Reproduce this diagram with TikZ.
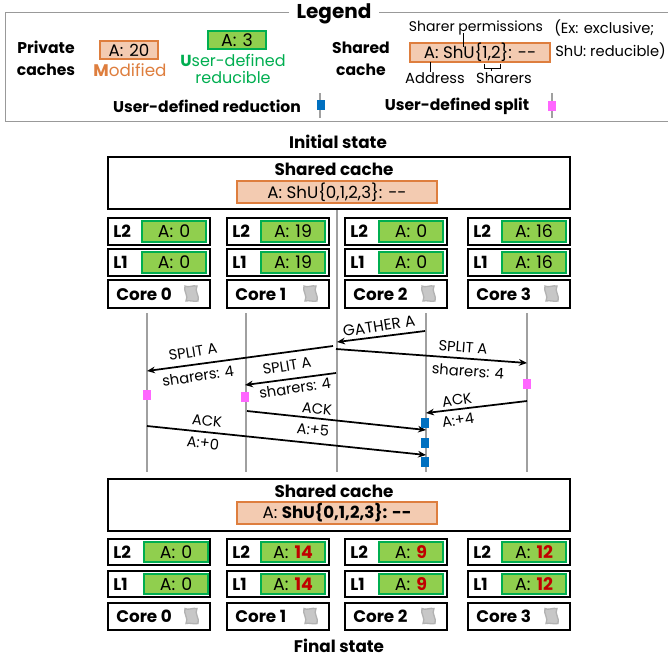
\documentclass[tikz,border=0pt]{standalone}
\usepackage{fontspec}
\setmainfont{Poppins}
\usetikzlibrary{arrows.meta}
\definecolor{orangeb}{HTML}{DE7E3E}
\definecolor{orangef}{HTML}{F3CBB1}
\definecolor{greenb}{HTML}{00AE50}
\definecolor{greenf}{HTML}{90CF4E}
\definecolor{redv}{HTML}{C00000}
\definecolor{lifeline}{HTML}{A0A0A0}
\definecolor{bluem}{HTML}{0070C0}
\definecolor{pinkm}{HTML}{FF66FF}
\tikzset{
  x=0.75pt,y=-0.75pt,
  txt/.style={inner sep=0pt,font=\fontsize{12}{14}\selectfont},
  lbl/.style={inner sep=0pt,font=\fontsize{10.5}{12}\selectfont},
  msglbl/.style={inner sep=0pt,font=\fontsize{11}{12}\selectfont},
  head/.style={inner sep=0pt,font=\fontsize{12.6}{14}\selectfont\bfseries},
  legbold/.style={inner sep=0pt,font=\fontsize{11.7}{16.5}\selectfont\bfseries},
  outerbox/.style={draw=black,line width=1.5pt,fill=white,inner sep=0pt,minimum width=76.5pt},
  greenbox/.style={draw=greenb,line width=1.4pt,fill=greenf,inner sep=0pt,text=black,font=\fontsize{13}{14}\selectfont},
  orangebox/.style={draw=orangeb,line width=1.4pt,fill=orangef,inner sep=0pt,text=black,font=\fontsize{12.5}{14}\selectfont},
  lifel/.style={draw=lifeline,line width=1.5pt},
  msg/.style={draw=black,line width=1.3pt,-{Stealth[length=6pt,width=5pt]}},
  bluebox/.style={fill=bluem,minimum width=6.5pt,minimum height=8pt,inner sep=0pt},
  pinkbox/.style={fill=pinkm,minimum width=6.5pt,minimum height=8pt,inner sep=0pt},
  scrollicon/.style={draw=black!30,line width=1pt,fill=black!22},
  guide/.style={draw=black,line width=0.7pt},
  legline/.style={draw=black!40,line width=0.75pt},
}
\newcommand{\corecol}[8]{%
  \node[outerbox,minimum height=20pt] (#1l2) at (#2+51,#3) {};
  \node[outerbox,minimum height=20pt] (#1l1) at (#2+51,#4) {};
  \node[outerbox,minimum height=20.5pt] (#1core) at (#2+51,#5) {};
  \node[head,anchor=west] (#1l2t) at (#2+5,#3) {L2};
  \node[head,anchor=west] (#1l1t) at (#2+5,#4) {L1};
  \node[greenbox,minimum width=47.5pt,minimum height=15.5pt] (#1l2v) at (#2+#8,#3) {A:\hspace{0.35em}#6};
  \node[greenbox,minimum width=47.5pt,minimum height=15.5pt] (#1l1v) at (#2+#8,#4) {A:\hspace{0.35em}#6};
  \node[head,anchor=west] (#1coret) at (#2+8,#5) {#7};
  \draw[scrollicon] (#2+77,#5-8) .. controls (#2+80,#5-6) and (#2+85,#5-9) .. (#2+89,#5-8)
     .. controls (#2+86,#5-3) and (#2+92,#5+2) .. (#2+90,#5+7)
     .. controls (#2+86,#5+8) and (#2+82,#5+6) .. (#2+78,#5+7)
     .. controls (#2+81,#5+2) and (#2+75,#5-3) .. cycle;
}
\begin{document}
\begin{tikzpicture}
\useasboundingbox (0,0) rectangle (668,658);
% legend frame
\coordinate (lg1) at (289,12); \coordinate (lg2) at (5,12); \coordinate (lg3) at (5,121);
\coordinate (lg4) at (668,121); \coordinate (lg5) at (668,12); \coordinate (lg6) at (379,12);
\draw[legline] (lg1) -- (lg2) -- (lg3) -- (lg4);
\draw[legline] (lg6) -- (lg5);
\node[inner sep=0pt,font=\fontsize{15}{17}\selectfont\bfseries] (legend) at (334,14) {Legend};
\node[legbold,align=center] (priv) at (46,58) {Private\\caches};
\node[orangebox,minimum width=43.5pt,minimum height=13.5pt] (a20) at (129,50) {A:\hspace{0.35em}20};
\node[txt,text=orangeb,font=\fontsize{12.6}{14}\selectfont] (modif) at (130,70) {\textbf{M}odified};
\node[greenbox,minimum width=43.5pt,minimum height=13.5pt] (a3) at (237,40) {A:\hspace{0.35em}3};
\node[txt,text=greenb,align=center,font=\fontsize{12}{13}\selectfont] (udr) at (233,69) {\textbf{U}ser-defined\\reducible};
\node[legbold,align=center] (shc) at (361,59) {Shared\\cache};
\node[orangebox,minimum width=105pt,minimum height=14.5pt] (ashu) at (480,52.5) {A: ShU\{1,2\}: -{}-};
\node[lbl] (sperm) at (476,28) {Sharer permissions};
\node[lbl,anchor=west,font=\fontsize{11}{13}\selectfont] (ex) at (554,28) {(Ex: exclusive;};
\node[lbl,anchor=west,font=\fontsize{11}{13}\selectfont] (shur) at (555,51) {ShU: reducible)};
\node[lbl,font=\fontsize{11}{13}\selectfont] (addr) at (435,78) {Address};
\node[lbl,font=\fontsize{11}{13}\selectfont] (shrs) at (504,78) {Sharers};
\coordinate (permb) at (463,47); \coordinate (permt) at (463,33);
\draw[guide] (permt) -- (permb);
\coordinate (addt) at (430,62); \coordinate (addb) at (430,72);
\draw[guide] (addt) -- (addb);
\coordinate (br1) at (484,64); \coordinate (br2) at (484,68); \coordinate (br3) at (500,68); \coordinate (br4) at (500,64);
\coordinate (br5) at (491,68); \coordinate (br6) at (491,71);
\draw[guide] (br1) -- (br2) -- (br3) -- (br4);
\draw[guide] (br5) -- (br6);
\node[legbold] (ureduc) at (207,106) {User-defined reduction};
\node[legbold] (usplit) at (457,106) {User-defined split};
\coordinate (lr1) at (320,93); \coordinate (lr2) at (320,118);
\coordinate (ls1) at (552,93); \coordinate (ls2) at (552,118);
\draw[lifel,line width=0.9pt] (lr1) -- (lr2);
\draw[lifel,line width=0.9pt] (ls1) -- (ls2);
\node[bluebox,minimum width=6pt,minimum height=7pt] (legb) at (321,105) {};
\node[pinkbox,minimum width=6pt,minimum height=7pt] (legp) at (552,106) {};
% titles
\node[head] (init) at (338,142) {Initial state};
\node[head] (fin) at (339,646) {Final state};
% life lines
\foreach \n/\x in {a/147,b/246,d/426,e/527}{
  \coordinate (t\n) at (\x,313);
  \coordinate (e\n) at (\x,472);
  \draw[lifel] (t\n) -- (e\n);
}
\coordinate (tc) at (337,209); \coordinate (ec) at (337,472);
\draw[lifel] (tc) -- (ec);
% initial state
\node[outerbox,minimum width=346.5pt,minimum height=39pt] (sc1) at (339,182.5) {};
\node[head] (sc1t) at (334,169) {Shared cache};
\node[orangebox,minimum width=150pt,minimum height=16.5pt] (sc1v) at (337,192) {A: ShU\{0,1,2,3\}: -{}-};
\corecol{p}{108}{231.5}{262.5}{294}{0}{Core 0}{66}
\corecol{q}{227}{231.5}{262.5}{294}{19}{Core 1}{66}
\corecol{r}{345}{231.5}{262.5}{294}{0}{Core 2}{66}
\corecol{s}{468}{231.5}{262.5}{294}{16}{Core 3}{66}
% final state
\node[outerbox,minimum width=346.5pt,minimum height=39pt] (sc2) at (339,504.5) {};
\node[head] (sc2t) at (334,491) {Shared cache};
\node[orangebox,minimum width=150pt,minimum height=16.5pt] (sc2v) at (337,513) {A: \textbf{ShU\{0,1,2,3\}: -{}-}};
\corecol{u}{108}{552}{584}{616.5}{0}{Core 0}{68}
\corecol{v}{227}{552}{584}{616.5}{\textbf{\textcolor{redv}{14}}}{Core 1}{66}
\corecol{w}{345}{552}{584}{616.5}{\textbf{\textcolor{redv}{9}}}{Core 2}{66}
\corecol{x}{468}{552}{584}{616.5}{\textbf{\textcolor{redv}{12}}}{Core 3}{66}
% messages
\foreach \n/\x/\y in {g1/425/331,g2/337/342,sl1/333/346,sl2/147/371,sr1/336/349,sr2/527/363,sm1/336/373,sm2/245/385,ar1/527/401,ar2/426/413,am1/247/411,am2/426/430,al1/147/426,al2/426/455}{
  \coordinate (\n) at (\x,\y);
}
\draw[msg] (g1) -- (g2);
\draw[msg] (sl1) -- (sl2);
\draw[msg] (sr1) -- (sr2);
\draw[msg] (sm1) -- (sm2);
\draw[msg] (ar1) -- (ar2);
\draw[msg] (am1) -- (am2);
\draw[msg] (al1) -- (al2);
% markers
\node[pinkbox] (pk1) at (147,395) {};
\node[pinkbox] (pk2) at (245,397) {};
\node[pinkbox] (pk3) at (527,384) {};
\node[bluebox] (bl1) at (425,423) {};
\node[bluebox] (bl2) at (425,443) {};
\node[bluebox] (bl3) at (425,462) {};
% labels
\node[msglbl,rotate=9,font=\fontsize{11.5}{13}\selectfont] (lg) at (379,326) {GATHER A};
\node[msglbl,rotate=9] (l1) at (193,352) {SPLIT A};
\node[msglbl,rotate=9] (l2) at (198,376) {sharers: 4};
\node[msglbl,rotate=-4] (l3) at (463,347) {SPLIT A};
\node[msglbl,rotate=-4] (l4) at (468,371) {sharers: 4};
\node[msglbl,rotate=9] (l5) at (287,366) {SPLIT A};
\node[msglbl,rotate=9] (l6) at (295,388) {sharers: 4};
\node[msglbl,rotate=-6] (l7) at (317,409) {ACK};
\node[msglbl,rotate=-6] (l8) at (313,430) {A:+5};
\node[msglbl,rotate=-6] (l9) at (207,421) {ACK};
\node[msglbl,rotate=-6] (l10) at (203,443) {A:+0};
\node[msglbl,rotate=9] (l11) at (457,400) {ACK};
\node[msglbl,rotate=9] (l12) at (458,420) {A:+4};
\end{tikzpicture}
\end{document}
